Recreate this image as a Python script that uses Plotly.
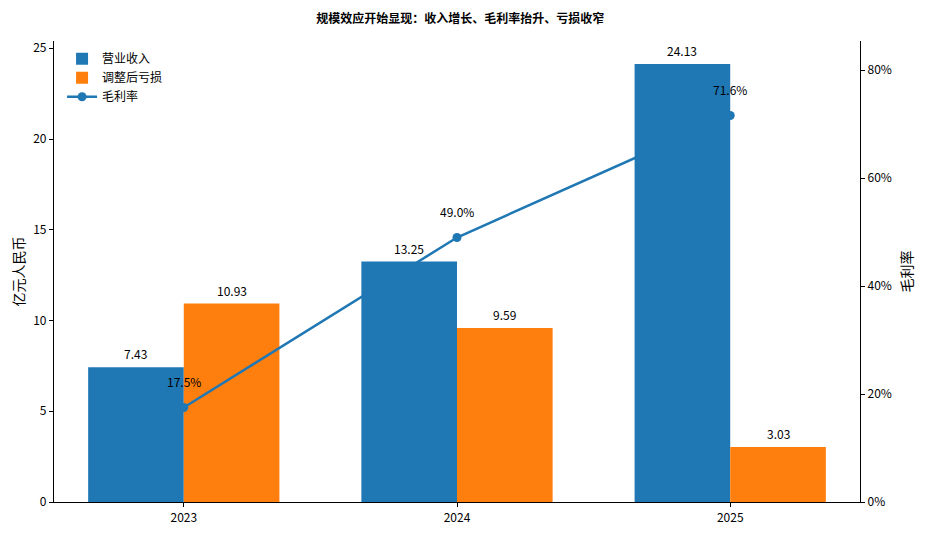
import plotly.graph_objects as go

# data
years = ['2023', '2024', '2025']
revenue = [7.43, 13.25, 24.13]        # 营业收入, 亿元
adj_loss = [10.93, 9.59, 3.03]        # 调整后亏损, 亿元
gross_margin = [0.175, 0.490, 0.716]  # 毛利率

FONT = 'Noto Sans CJK SC'
BLUE = '#1f77b4'
ORANGE = '#ff7f0e'

# page body has an 8px margin, margins below compensate for it
W, H = 925, 533
ML, MR, MT, MB = 46, 73, 33, 39
XRANGE = [-0.475, 2.475]
BAR_W = 0.35
px_per_cat = (W - ML - MR) / (XRANGE[1] - XRANGE[0])

fig = go.Figure()

fig.add_trace(go.Bar(
    x=years, y=revenue, name='营业收入',
    marker=dict(color=BLUE, line=dict(width=0)),
))
fig.add_trace(go.Bar(
    x=years, y=adj_loss, name='调整后亏损',
    marker=dict(color=ORANGE, line=dict(width=0)),
))
fig.add_trace(go.Scatter(
    x=years, y=gross_margin, name='毛利率', yaxis='y2',
    mode='lines+markers',
    line=dict(color=BLUE, width=2.5),
    marker=dict(color=BLUE, size=9),
    cliponaxis=False,
))

# bar value labels
for i in range(len(years)):
    for vals, side in ((revenue, -1), (adj_loss, 1)):
        fig.add_annotation(
            x=i, y=vals[i], text='%.2f' % vals[i], showarrow=False,
            xshift=side * BAR_W / 2 * px_per_cat, yanchor='bottom', yshift=3,
            font=dict(size=12, color='black'),
        )

# percentage labels above the line markers
for i, gm in enumerate(gross_margin):
    fig.add_annotation(
        x=i, y=gm, yref='y2', text='%.1f%%' % (gm * 100),
        showarrow=False, yshift=26, font=dict(size=12, color='black'),
    )

# right axis title (reads bottom-to-top like matplotlib)
fig.add_annotation(
    x=1, xref='paper', xanchor='center', xshift=45,
    y=0.5, yref='paper', yanchor='middle', text='毛利率',
    textangle=-90, showarrow=False, font=dict(size=14, color='black'),
)

fig.update_layout(
    width=W, height=H,
    margin=dict(l=ML, r=MR, t=MT, b=MB),
    paper_bgcolor='white', plot_bgcolor='white',
    font=dict(family=FONT, size=12, color='black'),
    title=dict(text='<b>规模效应开始显现：收入增长、毛利率抬升、亏损收窄</b>',
               x=0.489, xref='container', y=0.98, yref='container',
               yanchor='middle', font=dict(size=12)),
    barmode='group', bargap=1 - 2 * BAR_W, bargroupgap=0,
    showlegend=True,
    legend=dict(x=0.01, y=0.993, xanchor='left', yanchor='top',
                bgcolor='rgba(0,0,0,0)', font=dict(size=12),
                traceorder='normal', itemwidth=30, tracegroupgap=2),
    xaxis=dict(
        type='category', range=XRANGE, automargin=False,
        showline=True, linecolor='black', linewidth=1.2,
        ticks='outside', ticklen=4, tickcolor='black',
        showgrid=False, zeroline=False,
    ),
    yaxis=dict(
        range=[0, 25.4], tickvals=[0, 5, 10, 15, 20, 25], automargin=False,
        showline=True, linecolor='black', linewidth=1.2,
        ticks='outside', ticklen=4, tickcolor='black',
        showgrid=False, zeroline=False,
        title=dict(text='亿元人民币', font=dict(size=14), standoff=12),
    ),
    yaxis2=dict(
        overlaying='y', side='right', range=[0, 0.854], automargin=False,
        tickvals=[0, 0.2, 0.4, 0.6, 0.8], tickformat='.0%',
        showline=True, linecolor='black', linewidth=1.2,
        ticks='outside', ticklen=4, tickcolor='black',
        showgrid=False, zeroline=False,
    ),
)

fig.write_html("out.html")
